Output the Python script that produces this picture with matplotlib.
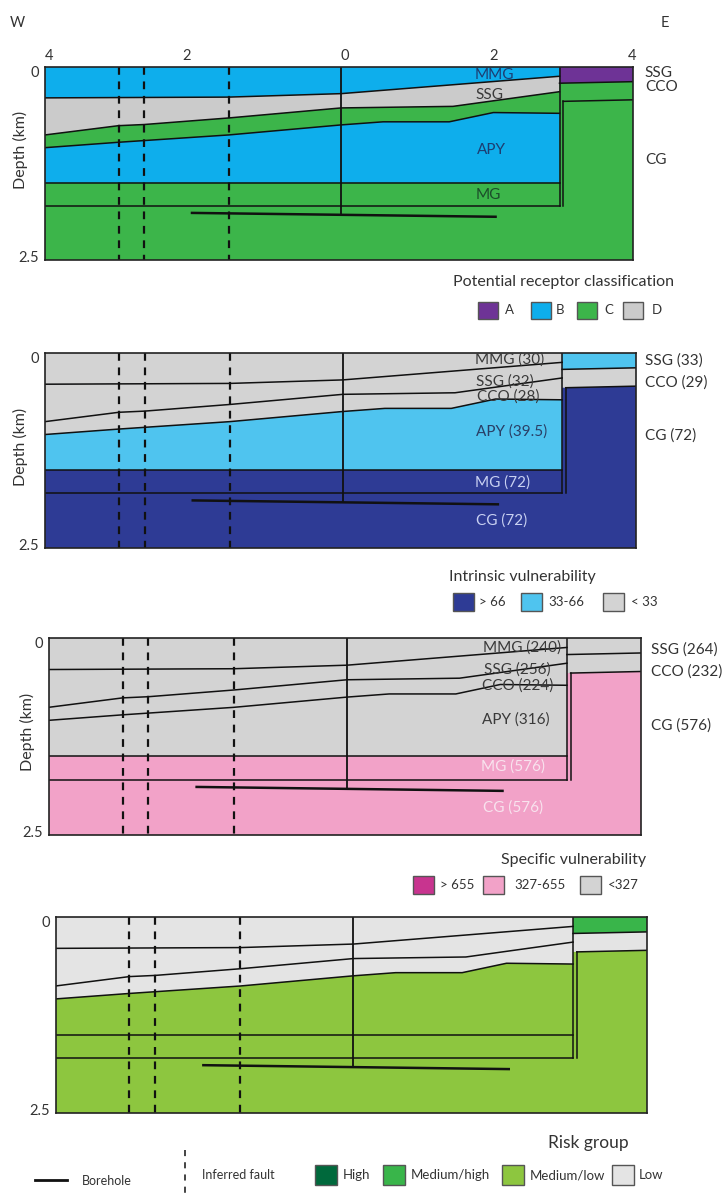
import numpy as np
import matplotlib.pyplot as plt
from matplotlib.patches import Rectangle

plt.rcParams['font.family'] = ['Lato', 'DejaVu Sans']

# coupe W-E : x en km (0 au forage), profondeur en km
x_mmg = [-4, -1.5, 0.03, 3.0]
d_mmg = [0.40, 0.39, 0.345, 0.12]          # base MMG
x_ssg = [-4, -3.0, -2.65, -1.5, 0.03, 1.55, 3.0]
d_ssg = [0.88, 0.76, 0.745, 0.66, 0.53, 0.51, 0.32]   # base SSG
x_cco = [-4, -3.0, -1.5, 0.03, 0.6, 1.5, 2.1, 3.0]
d_cco = [1.045, 0.975, 0.88, 0.75, 0.71, 0.71, 0.59, 0.60]   # base CCO
d_apy = 1.50
d_mg = 1.80
x_block = 3.0
x_step = 3.05
d_ssg_e = [0.21, 0.19]     # base SSG bloc est
d_cco_e = [0.445, 0.425]   # base CCO bloc est
x_faults = [-3.0, -2.65, -1.5]
x_bore = 0.03
bore_x = [-2.0, 2.13]
bore_d = [1.89, 1.94]

layers = ['MMG', 'SSG', 'CCO', 'APY', 'MG', 'CG', 'SSG_E', 'CCO_E']

# classes par panneau
cls1 = ['B', 'D', 'C', 'B', 'C', 'C', 'A', 'C']
col1 = {'A': '#6e3396', 'B': '#0eaeec', 'C': '#3cb54a', 'D': '#cbcbcb'}
cls2 = ['< 33', '< 33', '< 33', '33-66', '> 66', '> 66', '33-66', '< 33']
col2 = {'> 66': '#2e3b95', '33-66': '#4fc4ef', '< 33': '#d3d3d3'}
cls3 = ['<327', '<327', '<327', '<327', '327-655', '327-655', '<327', '<327']
col3 = {'> 655': '#c8348f', '327-655': '#f2a2c8', '<327': '#d3d3d3'}
cls4 = ['Low', 'Low', 'Low', 'Medium/low', 'Medium/low', 'Medium/low', 'Medium/high', 'Low']
col4 = {'High': '#00693c', 'Medium/high': '#39b54a', 'Medium/low': '#8dc63f', 'Low': '#e4e4e4'}

lab1 = ['MMG', 'SSG', 'APY', 'MG']
right1 = ['SSG', 'CCO', 'CG']
lab2 = ['MMG (30)', 'SSG (32)', 'CCO (28)', 'APY (39.5)', 'MG (72)', 'CG (72)']
right2 = ['SSG (33)', 'CCO (29)', 'CG (72)']
lab3 = ['MMG (240)', 'SSG (256)', 'CCO (224)', 'APY (316)', 'MG (576)', 'CG (576)']
right3 = ['SSG (264)', 'CCO (232)', 'CG (576)']

W, H = 724, 1195
fig = plt.figure(figsize=(W / 100, H / 100), dpi=100)


def px_axes(l, r, t, b):
    return fig.add_axes([l / W, 1 - b / H, (r - l) / W, (b - t) / H])


def draw_section(ax, classes, colors):
    c = {n: colors[k] for n, k in zip(layers, classes)}
    ax.fill([-4, 4, 4, -4], [0, 0, 2.5, 2.5], color=c['CG'], lw=0)
    bounds = [([-4, x_block], [0, 0]), (x_mmg, d_mmg), (x_ssg, d_ssg),
              (x_cco, d_cco), ([-4, x_block], [d_apy, d_apy]),
              ([-4, x_block], [d_mg, d_mg])]
    for i, name in enumerate(['MMG', 'SSG', 'CCO', 'APY', 'MG']):
        xt, dt = bounds[i]
        xb, db = bounds[i + 1]
        ax.fill(list(xt) + list(xb)[::-1], list(dt) + list(db)[::-1],
                color=c[name], lw=0)
    ax.fill([x_block, 4, 4, x_block], [0, 0, d_ssg_e[1], d_ssg_e[0]],
            color=c['SSG_E'], lw=0)
    ax.fill([x_block, 4, 4, x_step, x_block],
            [d_ssg_e[0], d_ssg_e[1], d_cco_e[1], d_cco_e[0], d_cco_e[0]],
            color=c['CCO_E'], lw=0)
    lk = dict(color='#111111', lw=1.1)
    for xb, db in bounds[1:]:
        ax.plot(xb, db, **lk)
    ax.plot([x_block, x_block], [0, d_mg], **lk)
    ax.plot([x_block, 4], d_ssg_e, **lk)
    ax.plot([x_step, 4], d_cco_e, **lk)
    ax.plot([x_step, x_step], [d_cco_e[0], d_mg], **lk)
    for xf in x_faults:
        ax.plot([xf, xf], [0, 2.5], color='#111111', lw=1.6, dashes=(3.5, 3))
    ax.plot([x_bore, x_bore], [0, np.interp(x_bore, bore_x, bore_d)],
            color='#111111', lw=1.3)
    ax.plot(bore_x, bore_d, color='#111111', lw=1.8)
    ax.set_xlim(-4, 4)
    ax.set_ylim(2.5, 0)
    for s in ax.spines.values():
        s.set_color('#222222')
        s.set_linewidth(1.2)
    ax.set_xticks([])
    ax.set_yticks([0.06, 2.46], ['0', '2.5'])
    ax.tick_params(axis='y', length=0, pad=4, labelsize=10.5, labelcolor='#333333')


def put_labels(ax, labels, pos, colors, right, right_x, right_d):
    for t, (x, d), c in zip(labels, pos, colors):
        ax.text(x, d, t, ha='center', va='center', fontsize=11, color=c)
    for t, d in zip(right, right_d):
        ax.text(right_x, d, t, ha='left', va='center', fontsize=11,
                color='#333333', clip_on=False)


ax1 = px_axes(45, 633, 67, 260)
draw_section(ax1, cls1, col1)
ax1.xaxis.tick_top()
ax1.set_xticks([-3.95, -2.08, 0.08, 2.1, 3.99], ['4', '2', '0', '2', '4'])
ax1.tick_params(axis='x', length=0, pad=3, labelsize=10.5, labelcolor='#333333')
put_labels(ax1, lab1, [(2.12, 0.11), (2.05, 0.36), (2.08, 1.075), (2.03, 1.66)],
           ['#1d3e72', '#3a3a3a', '#1d3e72', '#1b4d2a'],
           right1, 4.16, [0.074, 0.263, 1.2])

ax2 = px_axes(45, 636, 353, 548)
draw_section(ax2, cls2, col2)
put_labels(ax2, lab2, [(2.29, 0.09), (2.23, 0.37), (2.27, 0.56), (2.31, 1.01),
                       (2.2, 1.66), (2.18, 2.15)],
           ['#3a3a3a', '#3a3a3a', '#3a3a3a', '#2a3f66', '#c9d1f2', '#c9d1f2'],
           right2, 4.12, [0.094, 0.38, 1.06])

ax3 = px_axes(48.5, 641, 638, 835)
draw_section(ax3, cls3, col3)
put_labels(ax3, lab3, [(2.40, 0.117), (2.33, 0.40), (2.33, 0.60), (2.31, 1.04),
                       (2.27, 1.63), (2.27, 2.15)],
           ['#3a3a3a', '#3a3a3a', '#3a3a3a', '#3a3a3a', '#f8e3ee', '#f8e3ee'],
           right3, 4.14, [0.143, 0.427, 1.117])

ax4 = px_axes(55.5, 647, 917, 1113)
draw_section(ax4, cls4, col4)

# couche de texte en pixels
ov = fig.add_axes([0, 0, 1, 1])
ov.set_xlim(0, W)
ov.set_ylim(H, 0)
ov.axis('off')
ov.patch.set_alpha(0)

ov.text(17.5, 22.7, 'W', ha='center', va='center', fontsize=10.5, color='#333333')
ov.text(665, 22.7, 'E', ha='center', va='center', fontsize=10.5, color='#333333')
for x, y in [(20.8, 150), (20.5, 447), (27.5, 732)]:
    ov.text(x, y, 'Depth (km)', rotation=90, ha='center', va='center',
            fontsize=11.5, color='#333333')


def legend_row(title, tx, ty, names, colors, box_x, text_x, row_y, bw=21, bh=18,
               tsize=11.5):
    ov.text(tx, ty, title, ha='center', va='center', fontsize=tsize, color='#333333')
    for n, bx, txx in zip(names, box_x, text_x):
        ov.add_patch(Rectangle((bx, row_y - bh / 2), bw, bh, facecolor=colors[n],
                               edgecolor='#555555', lw=1))
        ov.text(txx, row_y, n, ha='left', va='center', fontsize=9.5, color='#333333')


legend_row('Potential receptor classification', 563.7, 281.7, ['A', 'B', 'C', 'D'],
           col1, [478, 531, 577, 623], [505, 556, 604, 652], 310, bw=20, bh=17)
legend_row('Intrinsic vulnerability', 522.7, 576.7, ['> 66', '33-66', '< 33'],
           col2, [452.5, 521, 602.5], [479, 548, 631], 601.7)
legend_row('Specific vulnerability', 573.6, 860, ['> 655', '327-655', '<327'],
           col3, [413, 483, 579.5], [440, 514, 608], 885)
legend_row('Risk group', 588.6, 1142.7, ['High', 'Medium/high', 'Medium/low', 'Low'],
           col4, [315, 383, 502, 612], [343, 411, 530, 639], 1175, bw=22, bh=20,
           tsize=12.5)

ov.plot([34.6, 67], [1180, 1180], color='#111111', lw=2)
ov.text(82, 1181, 'Borehole', ha='left', va='center', fontsize=9, color='#333333')
ov.plot([185, 185], [1150, 1193], color='#111111', lw=1.1, dashes=(4, 4))
ov.text(202, 1175, 'Inferred fault', ha='left', va='center', fontsize=9,
        color='#333333')

fig.savefig('out.png', dpi=100)
